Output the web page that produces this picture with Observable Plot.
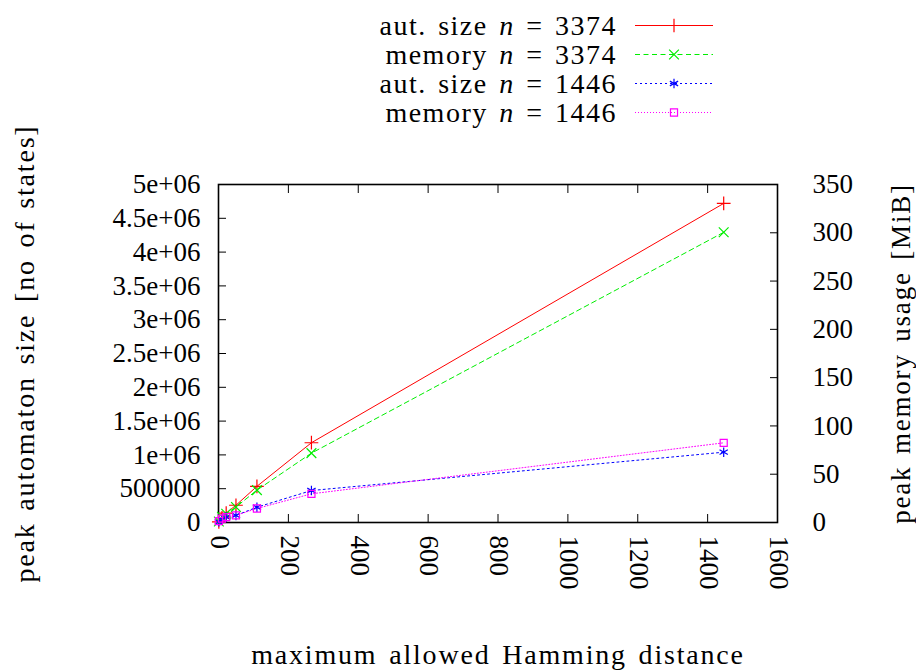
<!DOCTYPE html>
<html><head><meta charset="utf-8">
<script src="https://cdn.jsdelivr.net/npm/d3@7"></script>
<script src="https://cdn.jsdelivr.net/npm/@observablehq/plot@0.6"></script>
<style>
body{margin:0;background:#fff;font-family:"Liberation Serif",serif;}
#legend{position:relative;height:115px;width:916px;z-index:2;}
.row{position:absolute;left:0;width:916px;height:29px;}
.row .lab{position:absolute;right:299px;top:0;line-height:29px;font-size:28px;letter-spacing:1.5px;word-spacing:3px;white-space:nowrap;color:#000;}
.row svg{position:absolute;left:635px;top:0;}
#chart{position:relative;z-index:1;}
</style>
</head><body>
<div id="legend"></div>
<div id="chart"></div>
<script>
// ---- data ----
const hamming = [1, 10, 22, 50, 110, 266, 1446];
const autSize3374 = [8000, 70000, 140000, 255000, 535000, 1180000, 4720000];
const memory3374 = [1, 6, 9, 16, 33.5, 71.8, 300.5];       // MiB
const autSize1446 = [10000, 45000, 80000, 105000, 226000, 473000, 1040000];
const memory1446 = [1.5, 4, 5.5, 7.4, 14.5, 29.7, 82.5];   // MiB
const legendLabels = ["aut. size", "memory", "aut. size", "memory"];
const legendN = [3374, 3374, 1446, 1446];
const xTicks = [0, 200, 400, 600, 800, 1000, 1200, 1400, 1600];
const yTicks = [0, 500000, 1000000, 1500000, 2000000, 2500000, 3000000, 3500000, 4000000, 4500000, 5000000];
const y2Ticks = [0, 50, 100, 150, 200, 250, 300, 350];
const titles = ["peak automaton size [no of states]", "peak memory usage [MiB]", "maximum allowed Hamming distance"];
const Y_MAX = 5000000, Y2_MAX = 350;
const k = Y_MAX / Y2_MAX;

const series = [
  {values: autSize3374, axis: "left",  color: "#ff0000", dash: null,    symbol: "plus"},
  {values: memory3374,  axis: "right", color: "#00ee00", dash: "5,3.5", symbol: "times"},
  {values: autSize1446, axis: "left",  color: "#0000ff", dash: "2,3",   symbol: "asterisk"},
  {values: memory1446,  axis: "right", color: "#ff00ff", dash: "1,2",   symbol: "square2"}
];
series.forEach((s, i) => { s.name = legendLabels[i] + " n = " + legendN[i]; });

// ---- legend (HTML above the SVG) ----
const legend = document.getElementById("legend");
const symMap = {plus: d3.symbolPlus, times: d3.symbolTimes, asterisk: d3.symbolAsterisk, square2: d3.symbolSquare2};
series.forEach((s, i) => {
  const row = document.createElement("div");
  row.className = "row";
  row.style.top = (11 + i * 29) + "px";
  const lab = document.createElement("span");
  lab.className = "lab";
  lab.innerHTML = legendLabels[i] + " <i>n</i> = " + legendN[i];
  row.appendChild(lab);
  const svg = d3.create("svg").attr("width", 80).attr("height", 29);
  svg.append("line").attr("x1", 0).attr("x2", 78).attr("y1", 14.5).attr("y2", 14.5)
    .attr("stroke", s.color).attr("stroke-width", 1).attr("stroke-dasharray", s.dash);
  svg.append("path").attr("d", d3.symbol(symMap[s.symbol], Math.PI * 4.5 * 4.5)())
    .attr("transform", "translate(39,14.5)").attr("fill", "none").attr("stroke", s.color).attr("stroke-width", 1.2);
  row.appendChild(svg.node());
  legend.appendChild(row);
});

// ---- chart ----
const rows = series.flatMap(s => hamming.map((h, i) => ({
  name: s.name, x: h, y: s.axis === "right" ? s.values[i] * k : s.values[i]
})));

const fmtY = d => d === 0 ? "0" : d < 1e6 ? String(d) : (d / 1e6) + "e+06";

const marks = [];
series.forEach(s => {
  const data = rows.filter(r => r.name === s.name);
  marks.push(Plot.line(data, {x: "x", y: "y", stroke: s.color, strokeWidth: 1, strokeDasharray: s.dash}));
});
series.forEach(s => {
  const data = rows.filter(r => r.name === s.name);
  marks.push(Plot.dot(data, {x: "x", y: "y", symbol: () => s.symbol, stroke: s.color, fill: "none", r: 4.5, strokeWidth: 1.2}));
});

const chart = Plot.plot({
  width: 916,
  height: 556,
  marginLeft: 218,
  marginRight: 139,
  marginTop: 69,
  marginBottom: 149,
  style: {fontFamily: "Liberation Serif, serif", fontSize: "27px", color: "#000", background: "transparent", overflow: "visible"},
  x: {domain: [0, 1600]},
  y: {domain: [0, Y_MAX]},
  symbol: {type: "identity"},
  marks: [
    Plot.frame({stroke: "#000", strokeWidth: 1.6}),
    // inward tick marks (bottom + mirrored top)
    Plot.axisX(xTicks, {anchor: "bottom", tickSize: -8, tickFormat: () => "", label: null}),
    Plot.axisX(xTicks, {anchor: "top", tickSize: -8, tickFormat: () => "", label: null}),
    // rotated x tick labels
    Plot.axisX(xTicks, {anchor: "bottom", tickSize: 0, tickPadding: 13, tickRotate: 90, dx: 1, tickFormat: d => String(d), label: null, fontSize: 27}),
    Plot.axisY(yTicks, {anchor: "left", tickSize: -8, tickPadding: 26, tickFormat: fmtY, label: null, fontSize: 27}),
    Plot.axisY(y2Ticks.map(v => v * k), {anchor: "right", tickSize: -8, tickPadding: 43, tickFormat: d => String(Math.round(d / k)), label: null, fontSize: 27}),
    ...marks,
    Plot.text([titles[0]], {frameAnchor: "left", rotate: -90, dx: -193, textAnchor: "middle", lineAnchor: "middle", fontSize: 28}),
    Plot.text([titles[1]], {frameAnchor: "right", rotate: -90, dx: 124, textAnchor: "middle", lineAnchor: "middle", fontSize: 27}),
    Plot.text([titles[2]], {frameAnchor: "bottom", dy: 133, textAnchor: "middle", lineAnchor: "middle", fontSize: 28})
  ]
});
// widen the titles a little to approximate the reference's wider serif face
d3.select(chart).selectAll("text").filter(function() { return titles.includes(this.textContent); })
  .style("letter-spacing", "1.8px").style("word-spacing", "3px");
document.getElementById("chart").appendChild(chart);
</script>
</body></html>
